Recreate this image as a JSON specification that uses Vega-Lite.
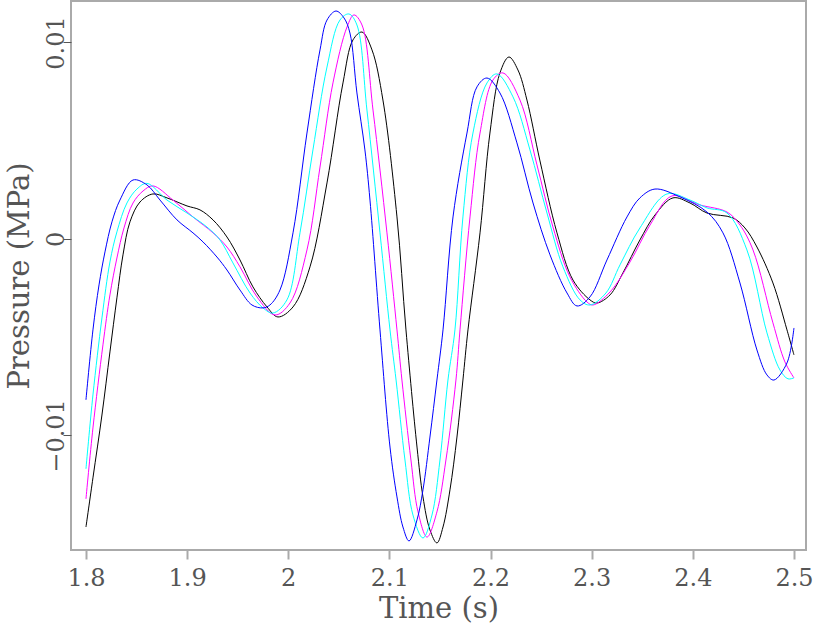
{
  "$schema": "https://vega.github.io/schema/vega-lite/v6.json",
  "width": 735,
  "height": 549,
  "autosize": "none",
  "padding": {"left": 71, "top": 1, "right": 8, "bottom": 75},
  "background": "white",
  "config": {
    "view": {"stroke": "#aaaaaa", "strokeWidth": 2},
    "axis": {
      "labelFont": "DejaVu Serif",
      "titleFont": "DejaVu Serif",
      "labelFontSize": 24,
      "titleFontSize": 29,
      "titleFontWeight": "normal",
      "labelColor": "#555555",
      "titleColor": "#555555",
      "grid": false,
      "domain": false
    }
  },
  "data": {
    "values": [
      {"t": 1.8, "p": -0.01466, "s": "black"},
      {"t": 1.8069, "p": -0.01216, "s": "black"},
      {"t": 1.8158, "p": -0.00896, "s": "black"},
      {"t": 1.8237, "p": -0.00575, "s": "black"},
      {"t": 1.8306, "p": -0.003, "s": "black"},
      {"t": 1.8366, "p": -0.00081, "s": "black"},
      {"t": 1.8435, "p": 0.00087, "s": "black"},
      {"t": 1.8534, "p": 0.00188, "s": "black"},
      {"t": 1.8662, "p": 0.00229, "s": "black"},
      {"t": 1.8801, "p": 0.00209, "s": "black"},
      {"t": 1.8999, "p": 0.00168, "s": "black"},
      {"t": 1.9127, "p": 0.00148, "s": "black"},
      {"t": 1.9256, "p": 0.00097, "s": "black"},
      {"t": 1.9394, "p": 0.0001, "s": "black"},
      {"t": 1.9523, "p": -0.00107, "s": "black"},
      {"t": 1.9651, "p": -0.00244, "s": "black"},
      {"t": 1.979, "p": -0.00346, "s": "black"},
      {"t": 1.9898, "p": -0.00397, "s": "black"},
      {"t": 2.0047, "p": -0.00346, "s": "black"},
      {"t": 2.0215, "p": -0.00142, "s": "black"},
      {"t": 2.0383, "p": 0.00285, "s": "black"},
      {"t": 2.0541, "p": 0.00794, "s": "black"},
      {"t": 2.064, "p": 0.01013, "s": "black"},
      {"t": 2.0729, "p": 0.01053, "s": "black"},
      {"t": 2.0828, "p": 0.00962, "s": "black"},
      {"t": 2.0936, "p": 0.00707, "s": "black"},
      {"t": 2.1075, "p": 0.00112, "s": "black"},
      {"t": 2.1164, "p": -0.00463, "s": "black"},
      {"t": 2.1273, "p": -0.01059, "s": "black"},
      {"t": 2.1332, "p": -0.01313, "s": "black"},
      {"t": 2.1401, "p": -0.01481, "s": "black"},
      {"t": 2.147, "p": -0.01547, "s": "black"},
      {"t": 2.153, "p": -0.01466, "s": "black"},
      {"t": 2.1599, "p": -0.01277, "s": "black"},
      {"t": 2.1668, "p": -0.01008, "s": "black"},
      {"t": 2.1727, "p": -0.00718, "s": "black"},
      {"t": 2.1777, "p": -0.00463, "s": "black"},
      {"t": 2.1896, "p": 0.00031, "s": "black"},
      {"t": 2.1994, "p": 0.00539, "s": "black"},
      {"t": 2.2093, "p": 0.00845, "s": "black"},
      {"t": 2.2182, "p": 0.00926, "s": "black"},
      {"t": 2.2271, "p": 0.0086, "s": "black"},
      {"t": 2.236, "p": 0.00707, "s": "black"},
      {"t": 2.2489, "p": 0.00397, "s": "black"},
      {"t": 2.2657, "p": 0.00031, "s": "black"},
      {"t": 2.2815, "p": -0.00209, "s": "black"},
      {"t": 2.2983, "p": -0.0031, "s": "black"},
      {"t": 2.3052, "p": -0.00326, "s": "black"},
      {"t": 2.3181, "p": -0.00285, "s": "black"},
      {"t": 2.3309, "p": -0.00173, "s": "black"},
      {"t": 2.3477, "p": -0.00005, "s": "black"},
      {"t": 2.3626, "p": 0.00122, "s": "black"},
      {"t": 2.3804, "p": 0.00209, "s": "black"},
      {"t": 2.3972, "p": 0.00183, "s": "black"},
      {"t": 2.414, "p": 0.00132, "s": "black"},
      {"t": 2.4397, "p": 0.00107, "s": "black"},
      {"t": 2.4515, "p": 0.00056, "s": "black"},
      {"t": 2.4634, "p": -0.00041, "s": "black"},
      {"t": 2.4792, "p": -0.00224, "s": "black"},
      {"t": 2.4931, "p": -0.00463, "s": "black"},
      {"t": 2.5, "p": -0.0059, "s": "black"},

      {"t": 1.8, "p": -0.01323, "s": "magenta"},
      {"t": 1.8069, "p": -0.00962, "s": "magenta"},
      {"t": 1.8168, "p": -0.00539, "s": "magenta"},
      {"t": 1.8237, "p": -0.00285, "s": "magenta"},
      {"t": 1.8306, "p": -0.00097, "s": "magenta"},
      {"t": 1.8376, "p": 0.00056, "s": "magenta"},
      {"t": 1.8465, "p": 0.00183, "s": "magenta"},
      {"t": 1.8564, "p": 0.00244, "s": "magenta"},
      {"t": 1.8662, "p": 0.0027, "s": "magenta"},
      {"t": 1.886, "p": 0.00198, "s": "magenta"},
      {"t": 1.9058, "p": 0.00112, "s": "magenta"},
      {"t": 1.9256, "p": 0.00031, "s": "magenta"},
      {"t": 1.9394, "p": -0.00041, "s": "magenta"},
      {"t": 1.9523, "p": -0.00142, "s": "magenta"},
      {"t": 1.9691, "p": -0.00295, "s": "magenta"},
      {"t": 1.9869, "p": -0.00387, "s": "magenta"},
      {"t": 2.0017, "p": -0.00326, "s": "magenta"},
      {"t": 2.0185, "p": -0.00056, "s": "magenta"},
      {"t": 2.0314, "p": 0.00366, "s": "magenta"},
      {"t": 2.0442, "p": 0.00794, "s": "magenta"},
      {"t": 2.0581, "p": 0.01079, "s": "magenta"},
      {"t": 2.065, "p": 0.0114, "s": "magenta"},
      {"t": 2.0729, "p": 0.01089, "s": "magenta"},
      {"t": 2.0838, "p": 0.00656, "s": "magenta"},
      {"t": 2.0976, "p": 0.00031, "s": "magenta"},
      {"t": 2.1075, "p": -0.00463, "s": "magenta"},
      {"t": 2.1124, "p": -0.00718, "s": "magenta"},
      {"t": 2.1213, "p": -0.01125, "s": "magenta"},
      {"t": 2.1283, "p": -0.01389, "s": "magenta"},
      {"t": 2.1372, "p": -0.01517, "s": "magenta"},
      {"t": 2.147, "p": -0.01389, "s": "magenta"},
      {"t": 2.1559, "p": -0.01125, "s": "magenta"},
      {"t": 2.1658, "p": -0.00718, "s": "magenta"},
      {"t": 2.1698, "p": -0.00463, "s": "magenta"},
      {"t": 2.1797, "p": 0.00112, "s": "magenta"},
      {"t": 2.1896, "p": 0.00539, "s": "magenta"},
      {"t": 2.2024, "p": 0.00809, "s": "magenta"},
      {"t": 2.2123, "p": 0.00845, "s": "magenta"},
      {"t": 2.2291, "p": 0.00707, "s": "magenta"},
      {"t": 2.2459, "p": 0.00377, "s": "magenta"},
      {"t": 2.2617, "p": 0.00061, "s": "magenta"},
      {"t": 2.2785, "p": -0.00193, "s": "magenta"},
      {"t": 2.2954, "p": -0.00321, "s": "magenta"},
      {"t": 2.3013, "p": -0.00336, "s": "magenta"},
      {"t": 2.3181, "p": -0.0027, "s": "magenta"},
      {"t": 2.3379, "p": -0.00117, "s": "magenta"},
      {"t": 2.3577, "p": 0.00071, "s": "magenta"},
      {"t": 2.3794, "p": 0.00219, "s": "magenta"},
      {"t": 2.4071, "p": 0.00173, "s": "magenta"},
      {"t": 2.4338, "p": 0.00137, "s": "magenta"},
      {"t": 2.4466, "p": 0.00071, "s": "magenta"},
      {"t": 2.4595, "p": -0.00056, "s": "magenta"},
      {"t": 2.4792, "p": -0.00427, "s": "magenta"},
      {"t": 2.4911, "p": -0.00626, "s": "magenta"},
      {"t": 2.5, "p": -0.00707, "s": "magenta"},

      {"t": 1.8, "p": -0.0117, "s": "cyan"},
      {"t": 1.8069, "p": -0.00794, "s": "cyan"},
      {"t": 1.8158, "p": -0.00402, "s": "cyan"},
      {"t": 1.8237, "p": -0.00117, "s": "cyan"},
      {"t": 1.8306, "p": 0.00036, "s": "cyan"},
      {"t": 1.8405, "p": 0.00183, "s": "cyan"},
      {"t": 1.8504, "p": 0.00254, "s": "cyan"},
      {"t": 1.8603, "p": 0.00283, "s": "cyan"},
      {"t": 1.8801, "p": 0.00198, "s": "cyan"},
      {"t": 1.8999, "p": 0.00132, "s": "cyan"},
      {"t": 1.9196, "p": 0.00061, "s": "cyan"},
      {"t": 1.9325, "p": -0.00005, "s": "cyan"},
      {"t": 1.9453, "p": -0.00122, "s": "cyan"},
      {"t": 1.9622, "p": -0.00275, "s": "cyan"},
      {"t": 1.975, "p": -0.00351, "s": "cyan"},
      {"t": 1.9849, "p": -0.00377, "s": "cyan"},
      {"t": 1.9987, "p": -0.0031, "s": "cyan"},
      {"t": 2.0116, "p": 0.00031, "s": "cyan"},
      {"t": 2.0244, "p": 0.00453, "s": "cyan"},
      {"t": 2.0383, "p": 0.00875, "s": "cyan"},
      {"t": 2.0511, "p": 0.01114, "s": "cyan"},
      {"t": 2.06, "p": 0.01145, "s": "cyan"},
      {"t": 2.0679, "p": 0.01089, "s": "cyan"},
      {"t": 2.0778, "p": 0.00656, "s": "cyan"},
      {"t": 2.0907, "p": 0.00031, "s": "cyan"},
      {"t": 2.1006, "p": -0.00463, "s": "cyan"},
      {"t": 2.1066, "p": -0.00718, "s": "cyan"},
      {"t": 2.1154, "p": -0.01125, "s": "cyan"},
      {"t": 2.1233, "p": -0.01405, "s": "cyan"},
      {"t": 2.1332, "p": -0.01522, "s": "cyan"},
      {"t": 2.1421, "p": -0.01405, "s": "cyan"},
      {"t": 2.15, "p": -0.01125, "s": "cyan"},
      {"t": 2.1579, "p": -0.00718, "s": "cyan"},
      {"t": 2.1648, "p": -0.00463, "s": "cyan"},
      {"t": 2.1727, "p": 0.00112, "s": "cyan"},
      {"t": 2.1826, "p": 0.00539, "s": "cyan"},
      {"t": 2.1965, "p": 0.00794, "s": "cyan"},
      {"t": 2.2063, "p": 0.0084, "s": "cyan"},
      {"t": 2.2222, "p": 0.00723, "s": "cyan"},
      {"t": 2.239, "p": 0.00453, "s": "cyan"},
      {"t": 2.2558, "p": 0.00132, "s": "cyan"},
      {"t": 2.2716, "p": -0.00142, "s": "cyan"},
      {"t": 2.2884, "p": -0.0031, "s": "cyan"},
      {"t": 2.2983, "p": -0.00336, "s": "cyan"},
      {"t": 2.3141, "p": -0.00275, "s": "cyan"},
      {"t": 2.328, "p": -0.00132, "s": "cyan"},
      {"t": 2.3477, "p": 0.00056, "s": "cyan"},
      {"t": 2.3744, "p": 0.00229, "s": "cyan"},
      {"t": 2.3972, "p": 0.00198, "s": "cyan"},
      {"t": 2.414, "p": 0.00158, "s": "cyan"},
      {"t": 2.4338, "p": 0.00132, "s": "cyan"},
      {"t": 2.4535, "p": -0.00056, "s": "cyan"},
      {"t": 2.4733, "p": -0.00478, "s": "cyan"},
      {"t": 2.4862, "p": -0.00667, "s": "cyan"},
      {"t": 2.4941, "p": -0.00712, "s": "cyan"},
      {"t": 2.5, "p": -0.00707, "s": "cyan"},

      {"t": 1.8, "p": -0.00819, "s": "blue"},
      {"t": 1.8069, "p": -0.00463, "s": "blue"},
      {"t": 1.8129, "p": -0.00234, "s": "blue"},
      {"t": 1.8188, "p": -0.00066, "s": "blue"},
      {"t": 1.8257, "p": 0.00087, "s": "blue"},
      {"t": 1.8336, "p": 0.00198, "s": "blue"},
      {"t": 1.8465, "p": 0.003, "s": "blue"},
      {"t": 1.8603, "p": 0.00275, "s": "blue"},
      {"t": 1.8732, "p": 0.00198, "s": "blue"},
      {"t": 1.89, "p": 0.00097, "s": "blue"},
      {"t": 1.9058, "p": 0.00031, "s": "blue"},
      {"t": 1.9157, "p": -0.00015, "s": "blue"},
      {"t": 1.9295, "p": -0.00092, "s": "blue"},
      {"t": 1.9394, "p": -0.00158, "s": "blue"},
      {"t": 1.9523, "p": -0.0026, "s": "blue"},
      {"t": 1.9641, "p": -0.00336, "s": "blue"},
      {"t": 1.975, "p": -0.00351, "s": "blue"},
      {"t": 1.9819, "p": -0.00336, "s": "blue"},
      {"t": 1.9918, "p": -0.0026, "s": "blue"},
      {"t": 2.0047, "p": 0.00031, "s": "blue"},
      {"t": 2.0185, "p": 0.00539, "s": "blue"},
      {"t": 2.0314, "p": 0.00962, "s": "blue"},
      {"t": 2.0383, "p": 0.01114, "s": "blue"},
      {"t": 2.0472, "p": 0.0116, "s": "blue"},
      {"t": 2.0551, "p": 0.01125, "s": "blue"},
      {"t": 2.061, "p": 0.01048, "s": "blue"},
      {"t": 2.0679, "p": 0.00743, "s": "blue"},
      {"t": 2.0758, "p": 0.00453, "s": "blue"},
      {"t": 2.0808, "p": 0.00198, "s": "blue"},
      {"t": 2.0907, "p": -0.00463, "s": "blue"},
      {"t": 2.1006, "p": -0.01059, "s": "blue"},
      {"t": 2.1075, "p": -0.01313, "s": "blue"},
      {"t": 2.1134, "p": -0.01466, "s": "blue"},
      {"t": 2.1194, "p": -0.01537, "s": "blue"},
      {"t": 2.1273, "p": -0.0143, "s": "blue"},
      {"t": 2.1332, "p": -0.01277, "s": "blue"},
      {"t": 2.1401, "p": -0.01008, "s": "blue"},
      {"t": 2.147, "p": -0.00718, "s": "blue"},
      {"t": 2.153, "p": -0.00463, "s": "blue"},
      {"t": 2.1629, "p": 0.00112, "s": "blue"},
      {"t": 2.1767, "p": 0.00539, "s": "blue"},
      {"t": 2.1866, "p": 0.00774, "s": "blue"},
      {"t": 2.1965, "p": 0.00819, "s": "blue"},
      {"t": 2.2093, "p": 0.00743, "s": "blue"},
      {"t": 2.2261, "p": 0.00489, "s": "blue"},
      {"t": 2.242, "p": 0.00183, "s": "blue"},
      {"t": 2.2588, "p": -0.00081, "s": "blue"},
      {"t": 2.2756, "p": -0.00275, "s": "blue"},
      {"t": 2.2855, "p": -0.00341, "s": "blue"},
      {"t": 2.2983, "p": -0.00295, "s": "blue"},
      {"t": 2.3151, "p": -0.00107, "s": "blue"},
      {"t": 2.3349, "p": 0.00112, "s": "blue"},
      {"t": 2.3477, "p": 0.00209, "s": "blue"},
      {"t": 2.3626, "p": 0.00254, "s": "blue"},
      {"t": 2.3873, "p": 0.00214, "s": "blue"},
      {"t": 2.414, "p": 0.00137, "s": "blue"},
      {"t": 2.4298, "p": 0.00031, "s": "blue"},
      {"t": 2.4466, "p": -0.00224, "s": "blue"},
      {"t": 2.4634, "p": -0.00565, "s": "blue"},
      {"t": 2.4733, "p": -0.00692, "s": "blue"},
      {"t": 2.4802, "p": -0.00718, "s": "blue"},
      {"t": 2.4931, "p": -0.00631, "s": "blue"},
      {"t": 2.5, "p": -0.00453, "s": "blue"}
    ]
  },
  "mark": {"type": "line", "strokeWidth": 1, "interpolate": "catmull-rom", "clip": true},
  "encoding": {
    "x": {
      "field": "t",
      "type": "quantitative",
      "scale": {"domain": [1.7852, 2.5119], "nice": false, "zero": false},
      "axis": {
        "title": "Time (s)",
        "values": [1.8, 1.9, 2, 2.1, 2.2, 2.3, 2.4, 2.5],
        "format": "~g",
        "tickColor": "#aaaaaa",
        "tickWidth": 2,
        "tickSize": 9,
        "labelPadding": 7,
        "titlePadding": 4
      }
    },
    "y": {
      "field": "p",
      "type": "quantitative",
      "scale": {"domain": [-0.01583, 0.01211], "nice": false, "zero": false},
      "axis": {
        "title": "Pressure (MPa)",
        "values": [-0.01, 0, 0.01],
        "format": "~g",
        "labelAngle": -90,
        "labelBaseline": "alphabetic",
        "labelAlign": "center",
        "tickColor": "#555555",
        "tickWidth": 1,
        "tickSize": 8,
        "labelPadding": 0,
        "titlePadding": 10
      }
    },
    "color": {
      "field": "s",
      "type": "nominal",
      "scale": {"domain": ["black", "magenta", "cyan", "blue"], "range": ["#000000", "#ff00ff", "#00ffff", "#0000ff"]},
      "legend": null
    }
  }
}
